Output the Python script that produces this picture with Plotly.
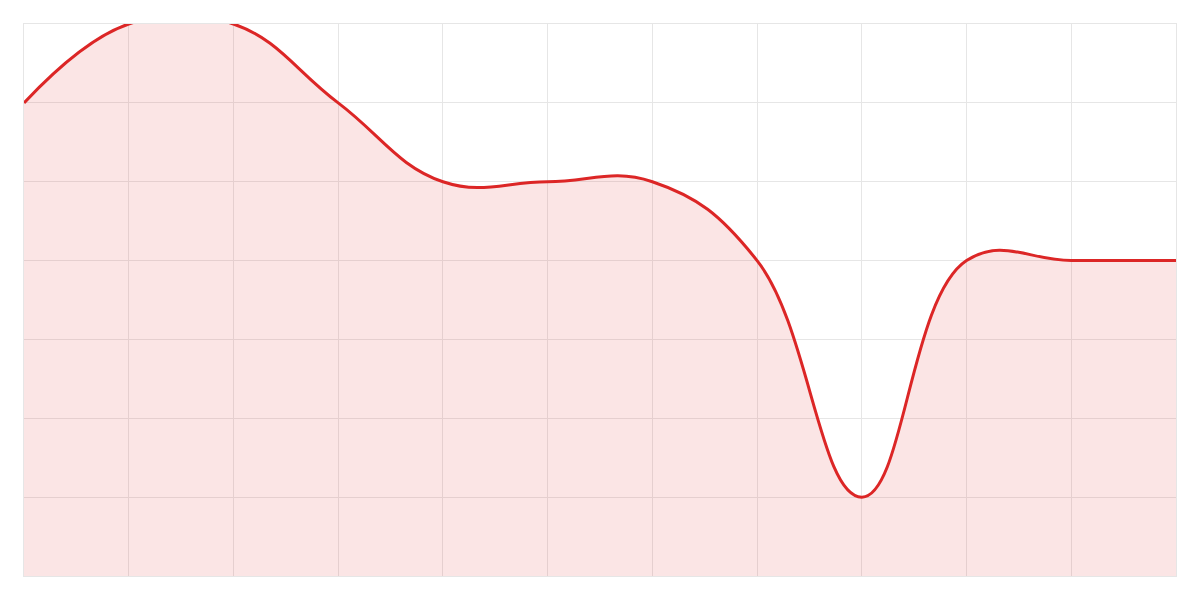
import plotly.graph_objects as go

# Data (12 evenly spaced points, y scale 0..7)
x_vals = list(range(12))
y_vals = [6, 7, 7, 6, 5, 5, 5, 4, 1, 4, 4, 4]

line_color = '#dc2626'
fill_color = 'rgba(220, 38, 38, 0.12)'
grid_color = '#e6e6e6'

fig = go.Figure()

# Smoothed area line
fig.add_trace(go.Scatter(x=x_vals, y=y_vals,
                         mode='lines',
                         line=dict(color=line_color, width=3, shape='spline', smoothing=1.2),
                         fill='tozeroy',
                         fillcolor=fill_color,
                         hoverinfo='skip',
                         showlegend=False))

# Layout: no labels, just the grid (page body adds an 8px offset)
fig.update_layout(width=1184, height=584,
                  margin=dict(l=16, r=16, t=16, b=16),
                  paper_bgcolor='white',
                  plot_bgcolor='white',
                  showlegend=False)

fig.update_xaxes(range=[0, 11], dtick=1, showgrid=True, gridcolor=grid_color, gridwidth=1,
                 showticklabels=False, ticks='', zeroline=False,
                 showline=True, mirror=True, linecolor=grid_color, linewidth=1)
fig.update_yaxes(range=[0, 7], dtick=1, showgrid=True, gridcolor=grid_color, gridwidth=1,
                 showticklabels=False, ticks='', zeroline=False,
                 showline=True, mirror=True, linecolor=grid_color, linewidth=1)

fig.write_html("out.html")
